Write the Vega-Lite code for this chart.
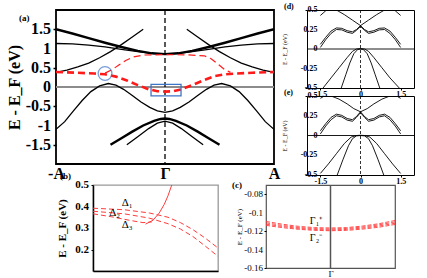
{
"$schema": "https://vega.github.io/schema/vega-lite/v6.json",
"padding": {"left": 5, "top": 2, "right": 0, "bottom": 0},
"background": "white",
"bounds": "flush",
"spacing": 175,
"config": {
  "font": "Liberation Serif",
  "view": {"stroke": "black"},
  "axis": {"grid": false, "domain": false, "labelFont": "Liberation Serif", "titleFont": "Liberation Serif", "labelColor": "#000", "titleColor": "#000", "tickColor": "#000", "labelOverlap": false, "labelBound": false, "labelFlush": false},
  "title": {"font": "Liberation Serif", "color": "#000"},
  "text": {"font": "Liberation Serif", "color": "#000"}
},
"datasets": {
  "ticksA": [{"E":1.5,"label":"1.5"},{"E":1,"label":"1"},{"E":0.5,"label":"0.5"},{"E":0,"label":"0"},{"E":-0.5,"label":"-0.5"},{"E":-1,"label":"-1"},{"E":-1.5,"label":"-1.5"}],
  "ticksDE": [{"E":0.5,"label":"0.5"},{"E":0.25,"label":"0.25"},{"E":0,"label":"0"},{"E":-0.25,"label":"-0.25"},{"E":-0.5,"label":"-0.5"}],
  "ticksB": [{"E":0.5,"label":"0.5"},{"E":0.4,"label":"0.4"},{"E":0.3,"label":"0.3"},{"E":0.2,"label":"0.2"}],
  "ticksC": [{"E":-0.08,"label":"-0.08"},{"E":-0.1,"label":"-0.1"},{"E":-0.12,"label":"-0.12"},{"E":-0.14,"label":"-0.14"},{"E":-0.16,"label":"-0.16"}],
  "bandsA": [
    {"band":"C1","k":-1,"E":1.5},{"band":"C1","k":-0.85,"E":1.39},{"band":"C1","k":-0.7,"E":1.27},{"band":"C1","k":-0.55,"E":1.15},{"band":"C1","k":-0.4,"E":1.04},{"band":"C1","k":-0.25,"E":0.94},{"band":"C1","k":-0.12,"E":0.875},{"band":"C1","k":0,"E":0.855},{"band":"C1","k":0.12,"E":0.875},{"band":"C1","k":0.25,"E":0.94},{"band":"C1","k":0.4,"E":1.04},{"band":"C1","k":0.55,"E":1.15},{"band":"C1","k":0.7,"E":1.27},{"band":"C1","k":0.85,"E":1.39},{"band":"C1","k":1,"E":1.5},
    {"band":"C2","k":-1,"E":1.13},{"band":"C2","k":-0.85,"E":1.12},{"band":"C2","k":-0.7,"E":1.09},{"band":"C2","k":-0.55,"E":1.04},{"band":"C2","k":-0.4,"E":0.98},{"band":"C2","k":-0.25,"E":0.92},{"band":"C2","k":-0.12,"E":0.875},{"band":"C2","k":0,"E":0.86},{"band":"C2","k":0.12,"E":0.875},{"band":"C2","k":0.25,"E":0.92},{"band":"C2","k":0.4,"E":0.98},{"band":"C2","k":0.55,"E":1.04},{"band":"C2","k":0.7,"E":1.09},{"band":"C2","k":0.85,"E":1.12},{"band":"C2","k":1,"E":1.13},
    {"band":"C3L","k":-1,"E":0.38},{"band":"C3L","k":-0.9,"E":0.44},{"band":"C3L","k":-0.8,"E":0.52},{"band":"C3L","k":-0.7,"E":0.62},{"band":"C3L","k":-0.6,"E":0.76},{"band":"C3L","k":-0.5,"E":0.92},{"band":"C3L","k":-0.4,"E":1.1},{"band":"C3L","k":-0.3,"E":1.3},{"band":"C3L","k":-0.2,"E":1.5},
    {"band":"C3R","k":1,"E":0.38},{"band":"C3R","k":0.9,"E":0.44},{"band":"C3R","k":0.8,"E":0.52},{"band":"C3R","k":0.7,"E":0.62},{"band":"C3R","k":0.6,"E":0.76},{"band":"C3R","k":0.5,"E":0.92},{"band":"C3R","k":0.4,"E":1.1},{"band":"C3R","k":0.3,"E":1.3},{"band":"C3R","k":0.2,"E":1.5},
    {"band":"C4","k":-1,"E":-1.1},{"band":"C4","k":-0.92,"E":-0.9},{"band":"C4","k":-0.84,"E":-0.62},{"band":"C4","k":-0.76,"E":-0.35},{"band":"C4","k":-0.68,"E":-0.12},{"band":"C4","k":-0.6,"E":0.03},{"band":"C4","k":-0.52,"E":0.09},{"band":"C4","k":-0.45,"E":0.05},{"band":"C4","k":-0.38,"E":-0.06},{"band":"C4","k":-0.3,"E":-0.22},{"band":"C4","k":-0.22,"E":-0.39},{"band":"C4","k":-0.14,"E":-0.53},{"band":"C4","k":-0.07,"E":-0.62},{"band":"C4","k":0,"E":-0.66},{"band":"C4","k":0.07,"E":-0.62},{"band":"C4","k":0.14,"E":-0.53},{"band":"C4","k":0.22,"E":-0.39},{"band":"C4","k":0.3,"E":-0.22},{"band":"C4","k":0.38,"E":-0.06},{"band":"C4","k":0.45,"E":0.05},{"band":"C4","k":0.52,"E":0.09},{"band":"C4","k":0.6,"E":0.03},{"band":"C4","k":0.68,"E":-0.12},{"band":"C4","k":0.76,"E":-0.35},{"band":"C4","k":0.84,"E":-0.62},{"band":"C4","k":0.92,"E":-0.9},{"band":"C4","k":1,"E":-1.1},
    {"band":"C5","k":-0.5,"E":-1.5},{"band":"C5","k":-0.4,"E":-1.33},{"band":"C5","k":-0.3,"E":-1.16},{"band":"C5","k":-0.2,"E":-1.0},{"band":"C5","k":-0.1,"E":-0.88},{"band":"C5","k":-0.04,"E":-0.83},{"band":"C5","k":0,"E":-0.82},{"band":"C5","k":0.04,"E":-0.83},{"band":"C5","k":0.1,"E":-0.88},{"band":"C5","k":0.2,"E":-1.0},{"band":"C5","k":0.3,"E":-1.16},{"band":"C5","k":0.4,"E":-1.33},{"band":"C5","k":0.5,"E":-1.5},
    {"band":"C6","k":-0.35,"E":-1.5},{"band":"C6","k":-0.25,"E":-1.29},{"band":"C6","k":-0.15,"E":-1.08},{"band":"C6","k":-0.07,"E":-0.94},{"band":"C6","k":0,"E":-0.885},{"band":"C6","k":0.07,"E":-0.94},{"band":"C6","k":0.15,"E":-1.08},{"band":"C6","k":0.25,"E":-1.29},{"band":"C6","k":0.35,"E":-1.5},
    {"band":"R1","k":-0.55,"E":0.36},{"band":"R1","k":-0.48,"E":0.46},{"band":"R1","k":-0.42,"E":0.58},{"band":"R1","k":-0.36,"E":0.69},{"band":"R1","k":-0.29,"E":0.78},{"band":"R1","k":-0.2,"E":0.83},{"band":"R1","k":0,"E":0.84},{"band":"R1","k":0.2,"E":0.835},{"band":"R1","k":0.36,"E":0.81},{"band":"R1","k":0.42,"E":0.74},{"band":"R1","k":0.48,"E":0.61},{"band":"R1","k":0.54,"E":0.47},{"band":"R1","k":0.6,"E":0.38},
    {"band":"R2","k":-1,"E":0.39},{"band":"R2","k":-0.8,"E":0.37},{"band":"R2","k":-0.65,"E":0.35},{"band":"R2","k":-0.55,"E":0.33},{"band":"R2","k":-0.45,"E":0.27},{"band":"R2","k":-0.35,"E":0.17},{"band":"R2","k":-0.25,"E":0.05},{"band":"R2","k":-0.15,"E":-0.06},{"band":"R2","k":-0.07,"E":-0.11},{"band":"R2","k":0,"E":-0.12},{"band":"R2","k":0.07,"E":-0.11},{"band":"R2","k":0.15,"E":-0.06},{"band":"R2","k":0.25,"E":0.05},{"band":"R2","k":0.35,"E":0.17},{"band":"R2","k":0.45,"E":0.28},{"band":"R2","k":0.55,"E":0.33},{"band":"R2","k":0.65,"E":0.35},{"band":"R2","k":0.8,"E":0.37},{"band":"R2","k":1,"E":0.39}
  ],
  "bandsB": [
    {"band":"D1","k":0,"E":0.392},{"band":"D1","k":0.25,"E":0.385},{"band":"D1","k":0.45,"E":0.37},{"band":"D1","k":0.6,"E":0.35},{"band":"D1","k":0.7,"E":0.325},{"band":"D1","k":0.8,"E":0.292},{"band":"D1","k":0.9,"E":0.252},{"band":"D1","k":1,"E":0.207},
    {"band":"D2","k":0,"E":0.378},{"band":"D2","k":0.25,"E":0.366},{"band":"D2","k":0.45,"E":0.346},{"band":"D2","k":0.6,"E":0.32},{"band":"D2","k":0.7,"E":0.295},{"band":"D2","k":0.8,"E":0.26},{"band":"D2","k":0.9,"E":0.215},{"band":"D2","k":1,"E":0.168},
    {"band":"D3","k":0,"E":0.366},{"band":"D3","k":0.15,"E":0.352},{"band":"D3","k":0.3,"E":0.335},{"band":"D3","k":0.4,"E":0.325},{"band":"D3","k":0.47,"E":0.328},
    {"band":"S","k":0.42,"E":0.318},{"band":"S","k":0.48,"E":0.336},{"band":"S","k":0.53,"E":0.37},{"band":"S","k":0.57,"E":0.41},{"band":"S","k":0.6,"E":0.45},{"band":"S","k":0.63,"E":0.5}
  ],
  "labelsB": [
    {"k":0.23,"E":0.415,"label":"Δ₁"},{"k":0.13,"E":0.37,"label":"Δ₂"},{"k":0.23,"E":0.315,"label":"Δ₃"}
  ],
  "bandsC": [
    {"band":"L1","k":-1,"E":-0.1095},{"band":"L1","k":-0.75,"E":-0.1125},{"band":"L1","k":-0.5,"E":-0.1148},{"band":"L1","k":-0.25,"E":-0.1162},{"band":"L1","k":0,"E":-0.1166},{"band":"L1","k":0.25,"E":-0.1162},{"band":"L1","k":0.5,"E":-0.1145},{"band":"L1","k":0.75,"E":-0.112},{"band":"L1","k":1,"E":-0.1085},
    {"band":"L2","k":-1,"E":-0.111},{"band":"L2","k":-0.75,"E":-0.1138},{"band":"L2","k":-0.5,"E":-0.116},{"band":"L2","k":-0.25,"E":-0.1173},{"band":"L2","k":0,"E":-0.1177},{"band":"L2","k":0.25,"E":-0.1172},{"band":"L2","k":0.5,"E":-0.1156},{"band":"L2","k":0.75,"E":-0.1132},{"band":"L2","k":1,"E":-0.11},
    {"band":"L3","k":-1,"E":-0.1125},{"band":"L3","k":-0.75,"E":-0.115},{"band":"L3","k":-0.5,"E":-0.117},{"band":"L3","k":-0.25,"E":-0.1183},{"band":"L3","k":0,"E":-0.1187},{"band":"L3","k":0.25,"E":-0.1182},{"band":"L3","k":0.5,"E":-0.1167},{"band":"L3","k":0.75,"E":-0.1145},{"band":"L3","k":1,"E":-0.1115},
    {"band":"L4","k":-1,"E":-0.1138},{"band":"L4","k":-0.75,"E":-0.1162},{"band":"L4","k":-0.5,"E":-0.118},{"band":"L4","k":-0.25,"E":-0.1192},{"band":"L4","k":0,"E":-0.1196},{"band":"L4","k":0.25,"E":-0.1192},{"band":"L4","k":0.5,"E":-0.1178},{"band":"L4","k":0.75,"E":-0.1158},{"band":"L4","k":1,"E":-0.1128}
  ],
  "labelsC": [
    {"k":-0.32,"E":-0.1088,"label":"Γ₁⁺"},{"k":-0.32,"E":-0.1273,"label":"Γ₂⁻"}
  ],
  "bandsD": [
    {"band":"T1","k":-1.5,"E":0.43},{"band":"T1","k":-1.4,"E":0.46},{"band":"T1","k":-1.3,"E":0.49},{"band":"T1","k":-1.25,"E":0.5},
    {"band":"T2","k":1.5,"E":0.43},{"band":"T2","k":1.4,"E":0.46},{"band":"T2","k":1.3,"E":0.49},{"band":"T2","k":1.25,"E":0.5},
    {"band":"V","k":-0.9,"E":0.5},{"band":"V","k":-0.6,"E":0.44},{"band":"V","k":-0.3,"E":0.37},{"band":"V","k":0,"E":0.3},{"band":"V","k":0.3,"E":0.37},{"band":"V","k":0.6,"E":0.44},{"band":"V","k":0.9,"E":0.5},
    {"band":"W1","k":-1.5,"E":0.06},{"band":"W1","k":-1.3,"E":0.15},{"band":"W1","k":-1.1,"E":0.23},{"band":"W1","k":-0.9,"E":0.27},{"band":"W1","k":-0.7,"E":0.265},{"band":"W1","k":-0.5,"E":0.235},{"band":"W1","k":-0.3,"E":0.22},{"band":"W1","k":-0.15,"E":0.25},{"band":"W1","k":0,"E":0.3},{"band":"W1","k":0.15,"E":0.25},{"band":"W1","k":0.3,"E":0.22},{"band":"W1","k":0.5,"E":0.235},{"band":"W1","k":0.7,"E":0.265},{"band":"W1","k":0.9,"E":0.27},{"band":"W1","k":1.1,"E":0.23},{"band":"W1","k":1.3,"E":0.15},{"band":"W1","k":1.5,"E":0.06},
    {"band":"W2","k":-1.5,"E":0.02},{"band":"W2","k":-1.3,"E":0.12},{"band":"W2","k":-1.1,"E":0.2},{"band":"W2","k":-0.9,"E":0.25},{"band":"W2","k":-0.7,"E":0.245},{"band":"W2","k":-0.5,"E":0.215},{"band":"W2","k":-0.3,"E":0.2},{"band":"W2","k":-0.15,"E":0.24},{"band":"W2","k":0,"E":0.29},{"band":"W2","k":0.15,"E":0.24},{"band":"W2","k":0.3,"E":0.2},{"band":"W2","k":0.5,"E":0.215},{"band":"W2","k":0.7,"E":0.245},{"band":"W2","k":0.9,"E":0.25},{"band":"W2","k":1.1,"E":0.2},{"band":"W2","k":1.3,"E":0.12},{"band":"W2","k":1.5,"E":0.02},
    {"band":"P1","k":-1.4,"E":-0.5},{"band":"P1","k":-1.1,"E":-0.37},{"band":"P1","k":-0.8,"E":-0.24},{"band":"P1","k":-0.5,"E":-0.11},{"band":"P1","k":-0.3,"E":-0.03},{"band":"P1","k":-0.15,"E":0.0},{"band":"P1","k":0,"E":0.005},{"band":"P1","k":0.15,"E":0.0},{"band":"P1","k":0.3,"E":-0.03},{"band":"P1","k":0.5,"E":-0.11},{"band":"P1","k":0.8,"E":-0.24},{"band":"P1","k":1.1,"E":-0.37},{"band":"P1","k":1.45,"E":-0.5},
    {"band":"P2","k":-0.72,"E":-0.5},{"band":"P2","k":-0.55,"E":-0.33},{"band":"P2","k":-0.4,"E":-0.18},{"band":"P2","k":-0.25,"E":-0.06},{"band":"P2","k":-0.1,"E":-0.005},{"band":"P2","k":0,"E":0},{"band":"P2","k":0.1,"E":-0.005},{"band":"P2","k":0.25,"E":-0.06},{"band":"P2","k":0.4,"E":-0.18},{"band":"P2","k":0.55,"E":-0.33},{"band":"P2","k":0.72,"E":-0.5}
  ],
  "bandsE": [
    {"band":"T1","k":-1.5,"E":0.47},{"band":"T1","k":-1.35,"E":0.5},
    {"band":"T2","k":1.5,"E":0.47},{"band":"T2","k":1.35,"E":0.5},
    {"band":"V","k":-1.1,"E":0.5},{"band":"V","k":-0.8,"E":0.46},{"band":"V","k":-0.5,"E":0.4},{"band":"V","k":-0.25,"E":0.34},{"band":"V","k":0,"E":0.3},{"band":"V","k":0.25,"E":0.34},{"band":"V","k":0.5,"E":0.4},{"band":"V","k":0.8,"E":0.46},{"band":"V","k":1.1,"E":0.5},
    {"band":"W1","k":-1.5,"E":0.06},{"band":"W1","k":-1.3,"E":0.15},{"band":"W1","k":-1.1,"E":0.23},{"band":"W1","k":-0.9,"E":0.27},{"band":"W1","k":-0.7,"E":0.255},{"band":"W1","k":-0.5,"E":0.215},{"band":"W1","k":-0.3,"E":0.2},{"band":"W1","k":-0.15,"E":0.24},{"band":"W1","k":0,"E":0.3},{"band":"W1","k":0.15,"E":0.24},{"band":"W1","k":0.3,"E":0.2},{"band":"W1","k":0.5,"E":0.215},{"band":"W1","k":0.7,"E":0.255},{"band":"W1","k":0.9,"E":0.27},{"band":"W1","k":1.1,"E":0.23},{"band":"W1","k":1.3,"E":0.15},{"band":"W1","k":1.5,"E":0.06},
    {"band":"W2","k":-1.5,"E":0.02},{"band":"W2","k":-1.3,"E":0.12},{"band":"W2","k":-1.1,"E":0.2},{"band":"W2","k":-0.9,"E":0.25},{"band":"W2","k":-0.7,"E":0.235},{"band":"W2","k":-0.5,"E":0.195},{"band":"W2","k":-0.3,"E":0.18},{"band":"W2","k":-0.15,"E":0.23},{"band":"W2","k":0,"E":0.29},{"band":"W2","k":0.15,"E":0.23},{"band":"W2","k":0.3,"E":0.18},{"band":"W2","k":0.5,"E":0.195},{"band":"W2","k":0.7,"E":0.235},{"band":"W2","k":0.9,"E":0.25},{"band":"W2","k":1.1,"E":0.2},{"band":"W2","k":1.3,"E":0.12},{"band":"W2","k":1.5,"E":0.02},
    {"band":"P1","k":-1.5,"E":-0.48},{"band":"P1","k":-1.2,"E":-0.36},{"band":"P1","k":-0.9,"E":-0.23},{"band":"P1","k":-0.6,"E":-0.1},{"band":"P1","k":-0.35,"E":-0.02},{"band":"P1","k":-0.15,"E":0.0},{"band":"P1","k":0,"E":0.003},{"band":"P1","k":0.15,"E":0.0},{"band":"P1","k":0.35,"E":-0.02},{"band":"P1","k":0.6,"E":-0.1},{"band":"P1","k":0.9,"E":-0.23},{"band":"P1","k":1.2,"E":-0.36},{"band":"P1","k":1.5,"E":-0.48},
    {"band":"P2","k":-0.87,"E":-0.5},{"band":"P2","k":-0.65,"E":-0.3},{"band":"P2","k":-0.45,"E":-0.13},{"band":"P2","k":-0.3,"E":-0.04},{"band":"P2","k":-0.15,"E":-0.005},{"band":"P2","k":0,"E":0},{"band":"P2","k":0.15,"E":-0.005},{"band":"P2","k":0.3,"E":-0.04},{"band":"P2","k":0.45,"E":-0.13},{"band":"P2","k":0.65,"E":-0.3},{"band":"P2","k":0.87,"E":-0.5}
  ]
},
"vconcat": [
  {"bounds": "flush", "spacing": 33, "hconcat": [
    {
      "width": 218, "height": 154,
      "title": {"text": "(a)", "anchor": "start", "frame": "group", "fontSize": 9, "fontWeight": "bold", "dx": -37, "dy": 14, "offset": 0},
      "view": {"stroke": "black", "strokeWidth": 1.8},
      "layer": [
        {"data": {"values": [{"E": 0}]}, "mark": {"type": "rule", "color": "#8c8c8c", "strokeWidth": 2},
         "encoding": {"y": {"field": "E", "type": "quantitative", "scale": {"domain": [-1.5, 1.5]},
           "axis": {"values": [-1.5, -1, -0.5, 0, 0.5, 1, 1.5], "labels": false, "tickSize": 3, "tickWidth": 1.5, "title": "E - E_F (eV)", "titleFontSize": 16, "titleFontWeight": "bold", "titlePadding": 30}}}},
        {"data": {"values": [{"k": 0}]}, "mark": {"type": "rule", "color": "black", "strokeWidth": 1.3, "strokeDash": [5, 3]},
         "encoding": {"x": {"field": "k", "type": "quantitative", "scale": {"domain": [-1, 1]},
           "axis": {"values": [-1, 0, 1], "labelExpr": "datum.value == 0 ? 'Γ' : (datum.value < 0 ? '-A' : 'A')", "labelOverlap": false, "labelFlush": false, "labelFontSize": 16, "labelFontWeight": "bold", "ticks": false, "labelPadding": 1, "title": null}}}},
        {"data": {"name": "bandsA"}, "transform": [{"filter": "indexof(['C2','C3L','C3R','C4','C6'], datum.band) >= 0"}],
         "mark": {"type": "line", "color": "black", "strokeWidth": 1.3, "clip": true},
         "encoding": {"x": {"field": "k", "type": "quantitative"}, "y": {"field": "E", "type": "quantitative"}, "detail": {"field": "band"}}},
        {"data": {"name": "bandsA"}, "transform": [{"filter": "indexof(['C1','C5'], datum.band) >= 0"}],
         "mark": {"type": "line", "color": "black", "strokeWidth": 2.4, "clip": true},
         "encoding": {"x": {"field": "k", "type": "quantitative"}, "y": {"field": "E", "type": "quantitative"}, "detail": {"field": "band"}}},
        {"data": {"name": "bandsA"}, "transform": [{"filter": "datum.band == 'R1'"}],
         "mark": {"type": "line", "color": "#ff1a1a", "strokeWidth": 1.2, "strokeDash": [7, 4], "clip": true},
         "encoding": {"x": {"field": "k", "type": "quantitative"}, "y": {"field": "E", "type": "quantitative"}}},
        {"data": {"name": "bandsA"}, "transform": [{"filter": "datum.band == 'R2'"}],
         "mark": {"type": "line", "color": "#ff1a1a", "strokeWidth": 2.6, "strokeDash": [7, 4], "clip": true},
         "encoding": {"x": {"field": "k", "type": "quantitative"}, "y": {"field": "E", "type": "quantitative"}}},
        {"data": {"values": [{"k": -0.55, "E": 0.35}]}, "mark": {"type": "point", "shape": "circle", "filled": false, "size": 190, "color": "#3d74c6", "strokeWidth": 1.3},
         "encoding": {"x": {"field": "k", "type": "quantitative"}, "y": {"field": "E", "type": "quantitative"}}},
        {"data": {"values": [{"k1": -0.128, "k2": 0.147, "E1": -0.23, "E2": 0.067}]}, "mark": {"type": "rect", "fill": null, "stroke": "#3d74c6", "strokeWidth": 1.3},
         "encoding": {"x": {"field": "k1", "type": "quantitative"}, "x2": {"field": "k2"}, "y": {"field": "E1", "type": "quantitative"}, "y2": {"field": "E2"}}},
        {"data": {"name": "ticksA"}, "mark": {"type": "text", "align": "right", "baseline": "middle", "fontSize": 16, "fontWeight": "bold", "dx": -5, "clip": false},
         "encoding": {"x": {"datum": -1, "type": "quantitative"}, "y": {"field": "E", "type": "quantitative"}, "text": {"field": "label"}}}
      ]
    },
    {"bounds": "flush", "spacing": 8, "vconcat": [
      {
        "width": 107, "height": 78,
        "title": {"text": "(d)", "anchor": "start", "frame": "group", "fontSize": 8, "fontWeight": "bold", "dx": -23, "dy": 5, "offset": 0},
        "view": {"stroke": "black", "strokeWidth": 1},
        "layer": [
          {"data": {"values": [{"E": 0}]}, "mark": {"type": "rule", "color": "black", "strokeWidth": 0.9},
           "encoding": {"y": {"field": "E", "type": "quantitative", "scale": {"domain": [-0.5, 0.5]},
             "axis": {"values": [-0.5, -0.25, 0, 0.25, 0.5], "labels": false, "tickSize": 2, "title": "E - E_F (eV)", "titleFontSize": 6, "titleFontWeight": "normal", "titlePadding": 17}}}},
          {"data": {"values": [{"k": 0}]}, "mark": {"type": "rule", "color": "black", "strokeWidth": 0.8, "strokeDash": [3, 2]},
           "encoding": {"x": {"field": "k", "type": "quantitative", "scale": {"domain": [-1.5, 1.5]},
             "axis": {"values": [-1.5, 0, 1.5], "labelExpr": "datum.value + ''", "labelOverlap": false, "labelFlush": false, "labelFontSize": 8, "labelFontWeight": "bold", "tickSize": 2, "labelPadding": 0, "title": null}}}},
          {"data": {"name": "bandsD"}, "mark": {"type": "line", "color": "black", "strokeWidth": 0.9, "clip": true},
           "encoding": {"x": {"field": "k", "type": "quantitative"}, "y": {"field": "E", "type": "quantitative"}, "detail": {"field": "band"}}},
          {"data": {"name": "ticksDE"}, "mark": {"type": "text", "align": "right", "baseline": "middle", "fontSize": 8, "fontWeight": "bold", "dx": -3, "clip": false},
           "encoding": {"x": {"datum": -1.5, "type": "quantitative"}, "y": {"field": "E", "type": "quantitative"}, "text": {"field": "label"}}}
        ]
      },
      {
        "width": 107, "height": 79,
        "title": {"text": "(e)", "anchor": "start", "frame": "group", "fontSize": 8, "fontWeight": "bold", "dx": -23, "dy": 5, "offset": 0},
        "view": {"stroke": "black", "strokeWidth": 1},
        "layer": [
          {"data": {"values": [{"E": 0}]}, "mark": {"type": "rule", "color": "black", "strokeWidth": 0.9},
           "encoding": {"y": {"field": "E", "type": "quantitative", "scale": {"domain": [-0.5, 0.5]},
             "axis": {"values": [-0.5, -0.25, 0, 0.25, 0.5], "labels": false, "tickSize": 2, "title": "E - E_F (eV)", "titleFontSize": 6, "titleFontWeight": "normal", "titlePadding": 17}}}},
          {"data": {"values": [{"k": 0}]}, "mark": {"type": "rule", "color": "black", "strokeWidth": 0.8, "strokeDash": [3, 2]},
           "encoding": {"x": {"field": "k", "type": "quantitative", "scale": {"domain": [-1.5, 1.5]},
             "axis": {"values": [-1.5, 0, 1.5], "labelExpr": "datum.value + ''", "labelOverlap": false, "labelFlush": false, "labelFontSize": 8, "labelFontWeight": "bold", "tickSize": 2, "labelPadding": 0, "title": null}}}},
          {"data": {"name": "bandsE"}, "mark": {"type": "line", "color": "black", "strokeWidth": 0.9, "clip": true},
           "encoding": {"x": {"field": "k", "type": "quantitative"}, "y": {"field": "E", "type": "quantitative"}, "detail": {"field": "band"}}},
          {"data": {"name": "ticksDE"}, "mark": {"type": "text", "align": "right", "baseline": "middle", "fontSize": 8, "fontWeight": "bold", "dx": -3, "clip": false},
           "encoding": {"x": {"datum": -1.5, "type": "quantitative"}, "y": {"field": "E", "type": "quantitative"}, "text": {"field": "label"}}}
        ]
      }
    ]}
  ]},
  {"bounds": "flush", "spacing": 36, "hconcat": [
    {"width": 1, "height": 1, "view": {"stroke": null}, "data": {"values": []}, "mark": {"type": "point", "opacity": 0}},
    {"bounds": "flush", "spacing": 48, "hconcat": [
      {
        "width": 125, "height": 86,
        "title": {"text": "(b)", "anchor": "start", "frame": "group", "fontSize": 9, "fontWeight": "bold", "dx": -33, "dy": 2, "offset": 0},
        "view": {"stroke": "#999999", "strokeWidth": 1.3},
        "layer": [
          {"data": {"name": "bandsB"}, "transform": [{"filter": "datum.band != 'S'"}],
           "mark": {"type": "line", "color": "#ff3b3b", "strokeWidth": 1, "strokeDash": [5, 3], "clip": true},
           "encoding": {"x": {"field": "k", "type": "quantitative", "scale": {"domain": [0, 1]}, "axis": {"domain": true, "domainColor": "black", "domainWidth": 1.5, "labels": false, "ticks": false, "title": null}},
             "y": {"field": "E", "type": "quantitative", "scale": {"domain": [0.1, 0.5]}, "axis": {"values": [0.2, 0.3, 0.4, 0.5], "labels": false, "domain": true, "domainColor": "black", "domainWidth": 1.5, "tickSize": 2, "title": "E - E_F (eV)", "titleFontSize": 11, "titleFontWeight": "bold", "titlePadding": 23}},
             "detail": {"field": "band"}}},
          {"data": {"name": "bandsB"}, "transform": [{"filter": "datum.band == 'S'"}],
           "mark": {"type": "line", "color": "#ff3b3b", "strokeWidth": 1, "clip": true},
           "encoding": {"x": {"field": "k", "type": "quantitative"}, "y": {"field": "E", "type": "quantitative"}}},
          {"data": {"name": "labelsB"}, "mark": {"type": "text", "align": "left", "baseline": "middle", "fontSize": 11},
           "encoding": {"x": {"field": "k", "type": "quantitative"}, "y": {"field": "E", "type": "quantitative"}, "text": {"field": "label"}}},
          {"data": {"name": "ticksB"}, "mark": {"type": "text", "align": "right", "baseline": "middle", "fontSize": 11, "fontWeight": "bold", "dx": -4, "clip": false},
           "encoding": {"x": {"datum": 0, "type": "quantitative"}, "y": {"field": "E", "type": "quantitative"}, "text": {"field": "label"}}}
        ]
      },
      {
        "width": 129, "height": 83,
        "title": {"text": "(c)", "anchor": "start", "frame": "group", "fontSize": 9, "fontWeight": "bold", "dx": -34, "dy": 6, "offset": 0},
        "view": {"stroke": "#555555", "strokeWidth": 1.2},
        "layer": [
          {"data": {"values": [{"k": 0}]}, "mark": {"type": "rule", "color": "#555555", "strokeWidth": 1.5},
           "encoding": {"x": {"field": "k", "type": "quantitative", "scale": {"domain": [-1, 1]}, "axis": {"values": [0], "labelExpr": "'Γ'", "labelOverlap": false, "labelFlush": false, "labelFontSize": 9, "ticks": false, "labelPadding": 1, "title": null}}}},
          {"data": {"name": "bandsC"},
           "mark": {"type": "line", "color": "#ff3b3b", "strokeWidth": 0.9, "strokeDash": [4, 2], "clip": true},
           "encoding": {"x": {"field": "k", "type": "quantitative"},
             "y": {"field": "E", "type": "quantitative", "scale": {"domain": [-0.16, -0.0765]}, "axis": {"values": [-0.16, -0.14, -0.12, -0.1, -0.08], "labels": false, "tickSize": 2, "title": "E - E_F (eV)", "titleFontSize": 7, "titleFontWeight": "normal", "titlePadding": 21}},
             "detail": {"field": "band"}}},
          {"data": {"name": "labelsC"}, "mark": {"type": "text", "align": "left", "baseline": "middle", "fontSize": 10},
           "encoding": {"x": {"field": "k", "type": "quantitative"}, "y": {"field": "E", "type": "quantitative"}, "text": {"field": "label"}}},
          {"data": {"name": "ticksC"}, "mark": {"type": "text", "align": "right", "baseline": "middle", "fontSize": 9, "dx": -3, "clip": false},
           "encoding": {"x": {"datum": -1, "type": "quantitative"}, "y": {"field": "E", "type": "quantitative"}, "text": {"field": "label"}}}
        ]
      }
    ]}
  ]}
]
}
